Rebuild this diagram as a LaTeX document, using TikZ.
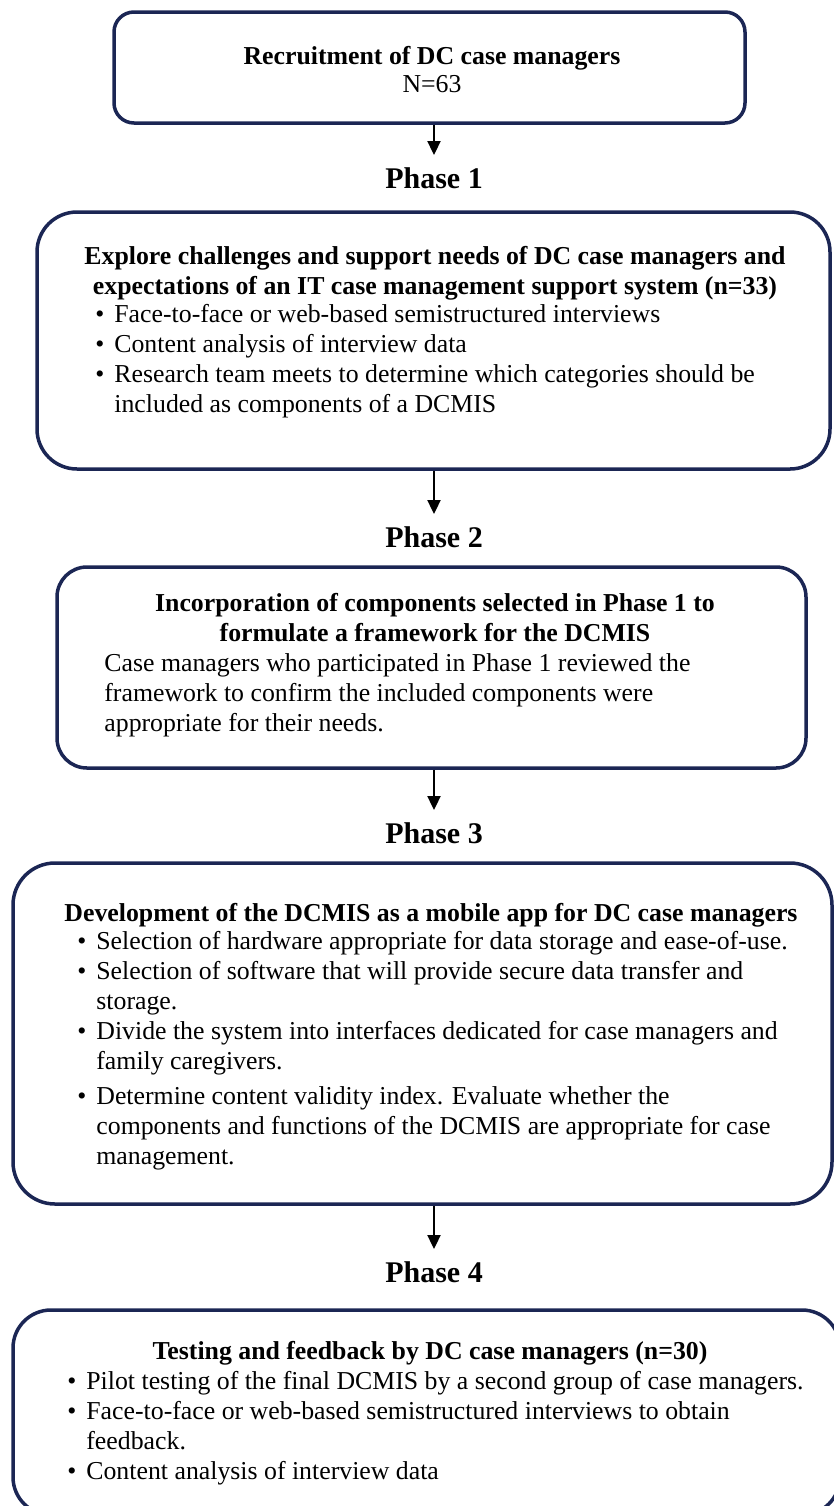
\documentclass[tikz,border=0pt]{standalone}
\usepackage{fontspec}
\setmainfont{Liberation Serif}
\usepackage{xcolor}
\usetikzlibrary{positioning,arrows.meta}

\definecolor{boxnavy}{RGB}{27,38,84}
\tikzset{
  stagebox/.style={draw=boxnavy, line width=1.75pt, rounded corners=#1, inner sep=0pt},
  phaselabel/.style={font=\fontsize{15}{17}\selectfont\bfseries, inner sep=6pt},
  boxhead/.style={font=\fontsize{12.9}{15}\selectfont\bfseries, align=center, inner sep=0pt, anchor=north},
  boxbody/.style={font=\fontsize{12.9}{15}\selectfont, align=left, inner sep=0pt, anchor=north west},
  flow/.style={-{Triangle[width=6.5pt,length=7pt]}, line width=1pt},
}
\newcommand{\bitem}{\makebox[9.5pt][l]{\textbullet}}
\newcommand{\bcont}{\hspace*{9.5pt}}

\begin{document}
\begin{tikzpicture}[x=0.5pt,y=-0.5pt]
\useasboundingbox (0,0) rectangle (834,1506);

\node[stagebox=10pt, minimum width=315.5pt, minimum height=55.5pt] (box0) at (429.5,67.5) {};
\node[stagebox=20pt, minimum width=396.5pt, minimum height=128.5pt] (box1) at (433.5,340.5) {};
\node[stagebox=15pt, minimum width=374.5pt, minimum height=100.5pt] (box2) at (431.5,667.5) {};
\node[stagebox=21pt, minimum width=409.5pt, minimum height=170.5pt] (box3) at (422.5,1033.5) {};
\node[stagebox=19pt, minimum width=413.5pt, minimum height=102.5pt] (box4) at (426.5,1412.5) {};

\node[phaselabel] (ph1) at (434,178) {Phase 1};
\node[phaselabel] (ph2) at (434,537) {Phase 2};
\node[phaselabel] (ph3) at (434,833) {Phase 3};
\node[phaselabel] (ph4) at (434,1272) {Phase 4};

\draw[flow] (box0.south -| ph1.north) -- (ph1.north);
\draw[flow] (box1.south -| ph2.north) -- (ph2.north);
\draw[flow] (box2.south -| ph3.north) -- (ph3.north);
\draw[flow] (box3.south -| ph4.north) -- (ph4.north);

\node[boxhead, font=\fontsize{12.9}{14}\selectfont\bfseries] (head0) at (432,46) {Recruitment of DC case managers\\\mdseries N=63};

\node[boxhead] (head1) at (435,246) {Explore challenges and support needs of DC case managers and\\
  expectations of an IT case management support system (n=33)};
\node[boxbody] (body1) at (95,304) {\bitem Face-to-face or web-based semistructured interviews\\
  \bitem Content analysis of interview data\\
  \bitem Research team meets to determine which categories should be\\
  \bcont included as components of a DCMIS};

\node[boxhead] (head2) at (435,593) {Incorporation of components selected in Phase 1 to\\
  formulate a framework for the DCMIS};
\node[boxbody] (body2) at (104,653) {Case managers who participated in Phase 1 reviewed the\\
  framework to confirm the included components were\\
  appropriate for their needs.};

\node[boxhead] (head3) at (431,903) {Development of the DCMIS as a mobile app for DC case managers};
\node[boxbody] (body3) at (77,931) {\bitem Selection of hardware appropriate for data storage and ease-of-use.\\
  \bitem Selection of software that will provide secure data transfer and\\
  \bcont storage.\\
  \bitem Divide the system into interfaces dedicated for case managers and\\
  \bcont family caregivers.\\[2.5pt]
  \bitem Determine content validity index. Evaluate whether the\\
  \bcont components and functions of the DCMIS are appropriate for case\\
  \bcont management.};

\node[boxhead] (head4) at (430,1341) {Testing and feedback by DC case managers (n=30)};
\node[boxbody] (body4) at (67,1371) {\bitem Pilot testing of the final DCMIS by a second group of case managers.\\
  \bitem Face-to-face or web-based semistructured interviews to obtain\\
  \bcont feedback.\\
  \bitem Content analysis of interview data};
\end{tikzpicture}
\end{document}
